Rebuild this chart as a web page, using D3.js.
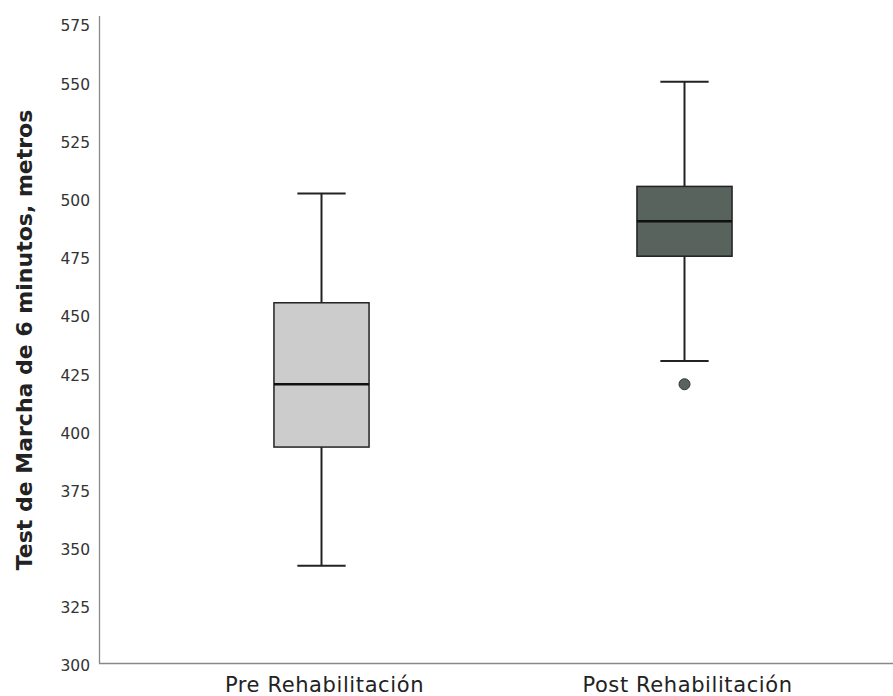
<!DOCTYPE html>
<html><head><meta charset="utf-8">
<script src="https://cdn.jsdelivr.net/npm/d3@7"></script>
<style>body{margin:0;background:#fff}svg{display:block}</style>
</head><body>
<svg id="c" width="893" height="696"></svg>
<script>
const categories = ["Pre Rehabilitación", "Post Rehabilitación"];
const whiskerLow  = [342, 430];
const q1          = [393, 475];
const median      = [420, 490];
const q3          = [455, 505];
const whiskerHigh = [502, 550];
const outliers    = [[], [420]];
const fills       = ["#cccccc", "#59635e"];
const yTicks      = [300, 325, 350, 375, 400, 425, 450, 475, 500, 525, 550, 575];
const yTitle      = "Test de Marcha de 6 minutos, metros";

const svg = d3.select("#c");
const y = d3.scaleLinear().domain([300, 575]).range([663.5, 23.5]);
const x = d3.scaleBand().domain(categories).range([140, 866]);
const boxW = x.bandwidth() * 0.262;
const capW = x.bandwidth() * 0.133;
const font = "'DejaVu Sans', sans-serif";

// axes
svg.append("line").attr("x1", 99.5).attr("x2", 99.5).attr("y1", 16).attr("y2", 663.5)
  .attr("stroke", "#888").attr("stroke-width", 1.3);
svg.append("line").attr("x1", 99).attr("x2", 893).attr("y1", 663.5).attr("y2", 663.5)
  .attr("stroke", "#888").attr("stroke-width", 1.3);

const yAxis = d3.axisLeft(y).tickValues(yTicks).tickSize(0).tickPadding(0);
const ga = svg.append("g").attr("transform", "translate(90,2)").call(yAxis);
ga.select(".domain").remove();
ga.selectAll("text").attr("font-family", font).attr("font-size", 15.5).attr("fill", "#333").attr("dy", "0.35em");

svg.append("text").attr("transform", `translate(32,340) rotate(-90)`)
  .attr("text-anchor", "middle").attr("font-family", font).attr("font-weight", "bold")
  .attr("font-size", 22).attr("fill", "#222").text(yTitle);

categories.forEach((c, i) => {
  const cx = x(c) + x.bandwidth() / 2;
  const g = svg.append("g");
  const stroke = "#222";
  g.append("line").attr("x1", cx).attr("x2", cx).attr("y1", y(whiskerHigh[i])).attr("y2", y(q3[i]))
    .attr("stroke", stroke).attr("stroke-width", 2);
  g.append("line").attr("x1", cx).attr("x2", cx).attr("y1", y(q1[i])).attr("y2", y(whiskerLow[i]))
    .attr("stroke", stroke).attr("stroke-width", 2);
  g.append("line").attr("x1", cx - capW / 2).attr("x2", cx + capW / 2)
    .attr("y1", y(whiskerHigh[i])).attr("y2", y(whiskerHigh[i])).attr("stroke", stroke).attr("stroke-width", 2);
  g.append("line").attr("x1", cx - capW / 2).attr("x2", cx + capW / 2)
    .attr("y1", y(whiskerLow[i])).attr("y2", y(whiskerLow[i])).attr("stroke", stroke).attr("stroke-width", 2);
  g.append("rect").attr("x", cx - boxW / 2).attr("width", boxW)
    .attr("y", y(q3[i])).attr("height", y(q1[i]) - y(q3[i]))
    .attr("fill", fills[i]).attr("stroke", stroke).attr("stroke-width", 1.5);
  g.append("line").attr("x1", cx - boxW / 2).attr("x2", cx + boxW / 2)
    .attr("y1", y(median[i])).attr("y2", y(median[i])).attr("stroke", "#111").attr("stroke-width", 2.5);
  outliers[i].forEach(v => {
    g.append("circle").attr("cx", cx).attr("cy", y(v)).attr("r", 5.5)
      .attr("fill", fills[i]).attr("stroke", "#333").attr("stroke-width", 1);
  });
  svg.append("text").attr("x", cx + 3).attr("y", 692).attr("text-anchor", "middle")
    .attr("font-family", font).attr("font-size", 21).attr("letter-spacing", 0.6)
    .attr("fill", "#222").text(c);
});
</script>
</body></html>
